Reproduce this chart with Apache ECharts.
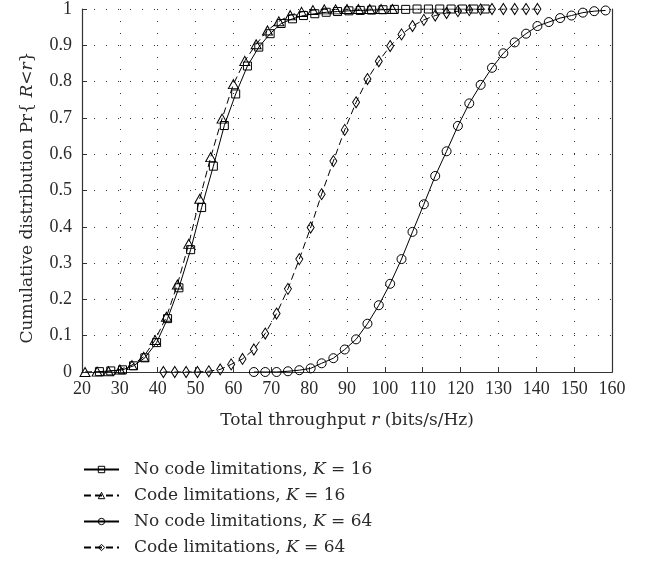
<!DOCTYPE html>
<html><head><meta charset="utf-8">
<script src="https://cdn.jsdelivr.net/npm/echarts@6/dist/echarts.min.js"></script>
<style>html,body{margin:0;padding:0;background:#fff}#c{width:649px;height:565px}</style>
</head><body><div id="c"></div>
<script>
// No code limitations, K = 16 (squares)
const sqX = [24.6,27.6,30.7,33.6,36.6,39.7,42.6,45.6,48.7,51.6,54.7,57.6,60.6,63.7,66.7,69.7,72.6,75.6,78.5,81.5,84.5,87.5,90.5,93.5,96.5,99.5,102.5,105.5,108.5,111.5,114.5,117.5,120.5,123.5,126.5];
const sqY = [0.001,0.003,0.006,0.017,0.039,0.081,0.147,0.232,0.337,0.453,0.567,0.679,0.766,0.843,0.895,0.932,0.960,0.973,0.982,0.987,0.991,0.993,0.995,0.996,0.997,0.998,0.999,0.999,1,1,1,1,1,1,1];
// Code limitations, K = 16 (triangles)
const trX = [20.8,24,27,30,33.2,36.3,39.3,42.3,45.2,48.2,51.1,54,57,60,63,66,69,72,75,78,81,84,87,90,93,96,99,102];
const trY = [0,0.001,0.002,0.007,0.019,0.042,0.088,0.152,0.241,0.353,0.477,0.592,0.698,0.793,0.857,0.903,0.941,0.966,0.983,0.992,0.997,0.999,0.999,1,1,1,1,1];
// No code limitations, K = 64 (circles)
const ciX = [65.4,68.4,71.4,74.4,77.4,80.4,83.3,86.4,89.4,92.4,95.4,98.4,101.4,104.4,107.3,110.3,113.3,116.3,119.3,122.3,125.3,128.3,131.3,134.3,137.3,140.3,143.3,146.3,149.3,152.3,155.3,158.3];
const ciY = [0,0,0,0.002,0.005,0.010,0.024,0.038,0.062,0.090,0.133,0.184,0.243,0.311,0.386,0.462,0.540,0.608,0.678,0.740,0.791,0.838,0.878,0.908,0.932,0.953,0.964,0.975,0.982,0.990,0.994,0.996];
// Code limitations, K = 64 (diamonds)
const diX = [41.5,44.5,47.5,50.5,53.5,56.5,59.4,62.4,65.4,68.4,71.4,74.4,77.4,80.4,83.3,86.4,89.4,92.4,95.4,98.4,101.4,104.4,107.3,110.3,113.3,116.3,119.3,122.3,125.3,128.3,131.3,134.3,137.3,140.3];
const diY = [0,0,0,0,0.002,0.007,0.021,0.036,0.062,0.106,0.161,0.229,0.311,0.398,0.490,0.581,0.667,0.743,0.807,0.856,0.898,0.930,0.953,0.970,0.982,0.989,0.994,0.997,0.999,1,1,1,1,1];

const xTicks = {min:20, max:160, step:10};
const yTicks = {min:0, max:1, step:0.1};
const names = ['No code limitations, K = 16','Code limitations, K = 16','No code limitations, K = 64','Code limitations, K = 64'];

const TFONT = 'DejaVu Serif';
const NFONT = 'Liberation Serif';
const TXT = '#2a2a2a';
const pair = (xs, ys) => xs.map((x, i) => [x, ys[i]]);

function mk(name, xs, ys, symbol, size, dashed) {
  return {
    name, type:'line', data: pair(xs, ys), symbol, symbolSize: size,
    lineStyle:{color:'#000', width:1, type: dashed ? [7,4] : 'solid'},
    itemStyle:{color:'rgba(255,255,255,0)', borderColor:'#000', borderWidth:1},
    emphasis:{disabled:true}, animation:false, z:3
  };
}
const ital = {fontFamily:TFONT, fontSize:17, fontStyle:'italic', color:TXT};

const chart = echarts.init(document.getElementById('c'), null, {renderer:'canvas'});
chart.setOption({
  backgroundColor:'#fff',
  animation:false,
  grid:{left:82, right:37, top:7, bottom:193},
  xAxis:[{
    type:'value', min:xTicks.min, max:xTicks.max, interval:xTicks.step,
    name:'Total throughput {i|r} (bits/s/Hz)', nameLocation:'middle', nameGap:40,
    nameTextStyle:{fontFamily:TFONT, fontSize:17, color:TXT, rich:{i:ital}},
    axisLine:{lineStyle:{color:'#333', width:1.2}},
    axisTick:{inside:true, length:5, lineStyle:{color:'#333'}},
    axisLabel:{fontFamily:NFONT, fontSize:18, color:TXT, margin:8},
    splitLine:{show:true, lineStyle:{color:'#333', width:1, type:[1,11]}}
  },{
    type:'value', position:'top', min:xTicks.min, max:xTicks.max, interval:xTicks.step,
    axisLine:{show:true, lineStyle:{color:'#333', width:1.2}},
    axisTick:{show:false}, axisLabel:{show:false}, splitLine:{show:false}
  }],
  yAxis:[{
    type:'value', min:yTicks.min, max:yTicks.max, interval:yTicks.step,
    name:'Cumulative distribution Pr{ {i|R}<{i|r}}', nameLocation:'middle', nameGap:46, nameRotate:90,
    nameTextStyle:{fontFamily:TFONT, fontSize:17, color:TXT, padding:[0,14,0,0], rich:{i:ital}},
    axisLine:{show:true, lineStyle:{color:'#333', width:1.2}},
    axisTick:{inside:true, length:5, lineStyle:{color:'#333'}},
    axisLabel:{fontFamily:NFONT, fontSize:18, color:TXT, margin:10},
    splitLine:{show:true, lineStyle:{color:'#333', width:1, type:[1,11]}}
  },{
    type:'value', position:'right', min:yTicks.min, max:yTicks.max, interval:yTicks.step,
    axisLine:{show:true, lineStyle:{color:'#333', width:1.2}},
    axisTick:{show:false}, axisLabel:{show:false}, splitLine:{show:false}
  }],
  legend:{
    orient:'vertical', left:83, top:460, padding:0, itemWidth:35, itemHeight:8, itemGap:7,
    selectedMode:false,
    data: names,
    formatter: n => n.replace('K =', '{i|K} ='),
    itemStyle:{color:'rgba(255,255,255,0)', borderColor:'#000', borderWidth:1},
    textStyle:{fontFamily:TFONT, fontSize:17, color:TXT, lineHeight:19, padding:[0,0,0,10],
      rich:{i:ital}}
  },
  series:[
    mk(names[0], sqX, sqY, 'rect', 8, false),
    mk(names[1], trX, trY, 'triangle', [10,9], true),
    mk(names[2], ciX, ciY, 'circle', 9, false),
    mk(names[3], diX, diY, 'diamond', [7,11], true)
  ]
});
</script></body></html>
